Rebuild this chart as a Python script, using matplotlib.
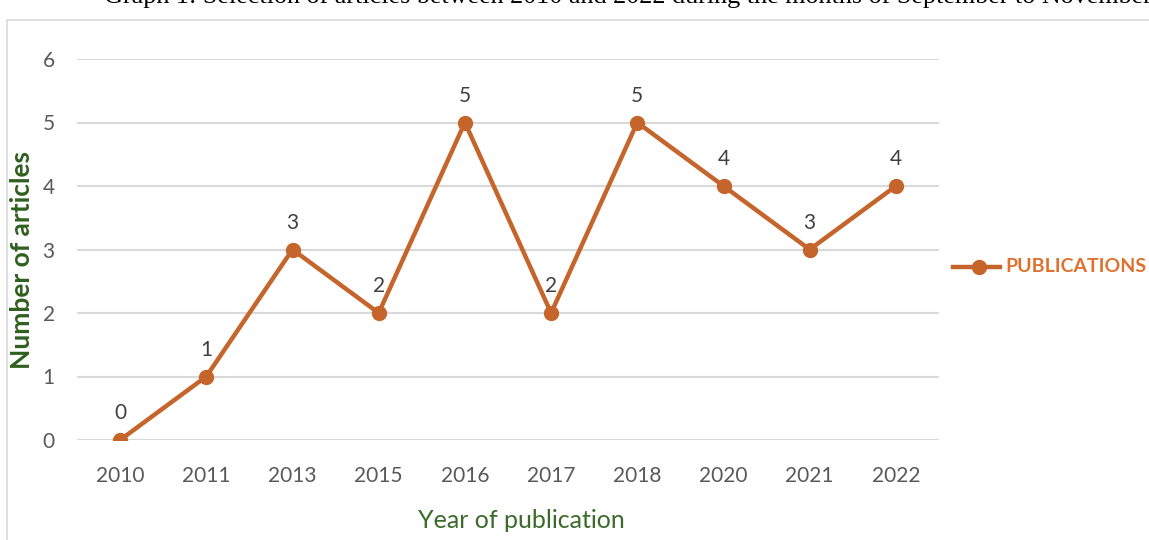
import matplotlib
matplotlib.use("Agg")
import matplotlib.pyplot as plt
from matplotlib.patches import Rectangle
from matplotlib.lines import Line2D

plt.rcParams["font.family"] = ["Lato", "DejaVu Sans"]

years = ["2010", "2011", "2013", "2015", "2016", "2017", "2018", "2020", "2021", "2022"]
articles = [0, 1, 3, 2, 5, 2, 5, 4, 3, 4]
series_name = "PUBLICATIONS"
caption = "Graph 1: Selection of articles between 2010 and 2022 during the months of September to November."

LINE_C = "#c5652b"
LEGEND_C = "#e0702e"
GRID_C = "#d9d9d9"
TICK_C = "#595959"
GREEN = "#2f5f1e"

fig = plt.figure(figsize=(11.49, 5.4), dpi=100)
ax = fig.add_axes([77 / 1149, 1 - 440 / 540, (939 - 77) / 1149, (440 - 59) / 540])

# chart frame (partly cut off by the page crop)
fig.patches.append(Rectangle((7 / 1149, -0.1), 1.2, 1 - 20 / 540 + 0.1,
                             transform=fig.transFigure, fill=False,
                             edgecolor=GRID_C, lw=1.2))
fig.text(104 / 1149, 1 - 3 / 540, caption, family="Liberation Serif",
         fontsize=18.8, va="baseline", ha="left", color="#000000")

x = list(range(len(years)))
ax.plot(x, articles, color=LINE_C, lw=3.2, marker="o", markersize=10,
        solid_capstyle="round", zorder=3)
for xi, v in zip(x, articles):
    ax.annotate(str(v), (xi, v), xytext=(0, 12), textcoords="offset points",
                ha="center", va="bottom", fontsize=15, color="#404040")

ax.set_xlim(-0.5, len(years) - 0.5)
ax.set_ylim(0, 6)
ax.set_yticks(range(0, 7))
ax.set_xticks(x)
ax.set_xticklabels(years)
ax.grid(axis="y", color=GRID_C, lw=1.5)
ax.set_axisbelow(True)
for s in ax.spines.values():
    s.set_visible(False)
ax.tick_params(length=0, labelsize=15, labelcolor=TICK_C)
ax.tick_params(axis="y", pad=16)
ax.tick_params(axis="x", pad=19)

fig.text(521 / 1149, 1 - 521 / 540, "Year of publication", fontsize=18,
         color="#3b6b2a", ha="center", va="center")
fig.text(22 / 1149, 1 - 260 / 540, "Number of articles", rotation=90,
         fontsize=19, fontweight="bold", color=GREEN, ha="center", va="center")

# legend drawn at right
fig.lines.append(Line2D([953 / 1149, 1000 / 1149], [1 - 267 / 540] * 2,
                        transform=fig.transFigure, color=LINE_C, lw=3.2))
fig.lines.append(Line2D([979 / 1149], [1 - 267 / 540], transform=fig.transFigure,
                        color=LINE_C, marker="o", markersize=10))
fig.text(1005 / 1149, 1 - 267 / 540, series_name, fontsize=14, fontweight="bold",
         color=LEGEND_C, ha="left", va="center")

fig.savefig("out.png", dpi=100)
